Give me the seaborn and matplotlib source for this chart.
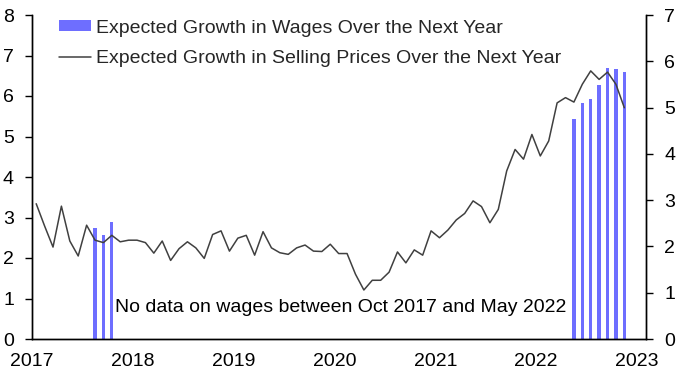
import matplotlib
matplotlib.use("Agg")
import matplotlib.pyplot as plt
import seaborn as sns
import numpy as np
import pandas as pd

# Expected growth in selling prices, monthly Jan 2017 - Nov 2022 (left-axis scale)
price_start = 2017  # Jan 2017
prices = [3.34, 2.79, 2.27, 3.28, 2.42, 2.05, 2.81, 2.44, 2.38, 2.56, 2.40, 2.44,
          2.44, 2.38, 2.12, 2.42, 1.94, 2.23, 2.40, 2.25, 1.99, 2.58, 2.67, 2.17,
          2.49, 2.56, 2.07, 2.65, 2.25, 2.13, 2.09, 2.25, 2.32, 2.17, 2.16, 2.34,
          2.11, 2.11, 1.60, 1.21, 1.45, 1.45, 1.65, 2.15, 1.88, 2.20, 2.07, 2.67,
          2.50, 2.69, 2.94, 3.10, 3.41, 3.27, 2.87, 3.20, 4.15, 4.68, 4.44, 5.05,
          4.52, 4.89, 5.83, 5.96, 5.85, 6.29, 6.62, 6.41, 6.59, 6.29, 5.71]

# Expected growth in wages (months since Jan 2017 -> value)
wage_months = [7, 8, 9, 64, 65, 66, 67, 68, 69, 70]
wages = [2.75, 2.56, 2.90, 5.43, 5.82, 5.92, 6.26, 6.69, 6.66, 6.60]

label_wages = "Expected Growth in Wages Over the Next Year"
label_prices = "Expected Growth in Selling Prices Over the Next Year"
note = "No data on wages between Oct 2017 and May 2022"
year_ticks = [2017, 2018, 2019, 2020, 2021, 2022, 2023]
left_ticks = [0, 1, 2, 3, 4, 5, 6, 7, 8]
right_ticks = [0, 1, 2, 3, 4, 5, 6, 7]

df_p = pd.DataFrame({"t": price_start + (np.arange(len(prices)) + 0.5) / 12.0, "v": prices})
df_w = pd.DataFrame({"t": price_start + (np.array(wage_months) + 0.5) / 12.0, "v": wages})

sns.set_theme(style="white")
plt.rcParams["font.family"] = ["Liberation Sans", "DejaVu Sans"]

FS = 14
fig = plt.figure(figsize=(6.87, 3.82), dpi=100)
ax = fig.add_axes([32 / 687, 1 - 339 / 382, (646 - 32) / 687, (339 - 15) / 382])

ax.bar(df_w["t"], df_w["v"], width=0.033, color="#6E6EFF", linewidth=0,
       label=label_wages, zorder=2)
sns.lineplot(data=df_p, x="t", y="v", ax=ax, color="#404040", linewidth=1.1,
             label=label_prices, zorder=3)

ax.set_xlim(2017, 2023.09)
ax.set_ylim(0, 8)
ax.set_xticks(year_ticks)
ax.set_xticklabels([str(y) for y in year_ticks])
ax.set_yticks(left_ticks)
ax.set_xlabel("")
ax.set_ylabel("")

ax2 = ax.twinx()
ax2.set_ylim(0, 7)
ax2.set_yticks(right_ticks)

for a in (ax, ax2):
    for s in a.spines.values():
        s.set_color("black")
        s.set_linewidth(1.0)
    a.spines["top"].set_visible(False)
    a.tick_params(axis="both", direction="out", length=5, width=1, color="black",
                  labelsize=FS, labelcolor="black")
ax.tick_params(axis="y", pad=8)
ax2.tick_params(axis="y", pad=8)
ax.tick_params(axis="x", pad=5)

ax.text(2017.82, 0.77, note, fontsize=FS, color="black", va="center", ha="left")

h, l = ax.get_legend_handles_labels()
order = [l.index(label_wages), l.index(label_prices)]
ax.legend([h[i] for i in order], [l[i] for i in order], loc="upper left",
          bbox_to_anchor=(0.044, 0.985), frameon=False,
          fontsize=FS, handlelength=1.65, handleheight=0.5, handletextpad=0.27,
          labelspacing=0.69, borderpad=0, borderaxespad=0)

fig.savefig("out.png", dpi=100)
